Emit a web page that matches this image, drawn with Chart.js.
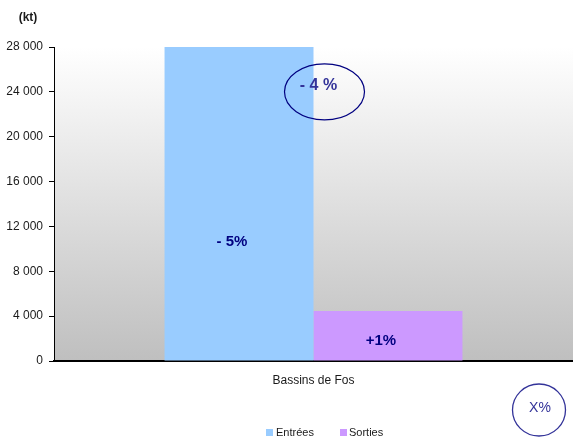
<!DOCTYPE html>
<html lang="fr">
<head>
  <meta charset="UTF-8" />
  <title>Bassins de Fos</title>
  <script src="https://cdn.jsdelivr.net/npm/chart.js"></script>
  <style>
    body { margin: 0; background: #fff; }
    #wrap { width: 573px; height: 439px; }
  </style>
</head>
<body>
  <div id="wrap"><canvas id="chart"></canvas></div>
  <script>
    // data
    const categories = ['Bassins de Fos'];
    const seriesNames = ['Entrées', 'Sorties'];
    const entrees = [28000];
    const sorties = [4450];
    const yTicks = [0, 4000, 8000, 12000, 16000, 20000, 24000, 28000];
    const barLabels = ['- 5%', '+1%'];
    const totalLabel = '- 4 %';
    const cornerLabel = 'X%';
    const unitLabel = '(kt)';

    const colors = ['#99CCFF', '#CC99FF'];
    const FONT = "'Liberation Sans', Arial, sans-serif";

    const fmt = v => String(v).replace(/\B(?=(\d{3})+(?!\d))/g, ' ');

    const decor = {
      id: 'decor',
      beforeDraw(chart) {
        const { ctx, chartArea: a } = chart;
        const g = ctx.createLinearGradient(0, a.top, 0, a.bottom);
        g.addColorStop(0, '#ffffff');
        g.addColorStop(1, '#bfbfbf');
        ctx.save();
        ctx.fillStyle = g;
        ctx.fillRect(a.left, a.top, a.right - a.left, a.bottom - a.top);
        ctx.restore();
      },
      afterDraw(chart) {
        const { ctx } = chart;
        const y = chart.scales.y;
        const b0 = chart.getDatasetMeta(0).data[0];
        const b1 = chart.getDatasetMeta(1).data[0];
        ctx.save();
        ctx.textAlign = 'center';
        ctx.textBaseline = 'middle';

        // unit
        ctx.font = 'bold 12px ' + FONT;
        ctx.fillStyle = '#1a1a1a';
        ctx.fillText(unitLabel, 28, 18);

        // bar labels
        ctx.font = 'bold 15px ' + FONT;
        ctx.fillStyle = '#000080';
        ctx.fillText(barLabels[0], b0.x - 7, y.getPixelForValue(10600));
        ctx.fillText(barLabels[1], b1.x - 7, y.getPixelForValue(1800));

        // ellipse with total change
        const ex = b0.x + b0.width / 2 + 11;
        const ey = y.getPixelForValue(24000);
        ctx.strokeStyle = '#000080';
        ctx.lineWidth = 1.2;
        ctx.beginPath();
        ctx.ellipse(ex, ey, 40, 28, 0, 0, Math.PI * 2);
        ctx.stroke();
        ctx.font = 'bold 16px ' + FONT;
        ctx.fillStyle = '#333399';
        ctx.fillText(totalLabel, ex - 6, ey - 6);

        // corner ellipse
        ctx.strokeStyle = '#333399';
        ctx.lineWidth = 1.3;
        ctx.beginPath();
        ctx.ellipse(539, 410, 26.5, 26, 0, 0, Math.PI * 2);
        ctx.stroke();
        ctx.font = '14px ' + FONT;
        ctx.fillText(cornerLabel, 540, 408);

        // legend
        ctx.font = '11px ' + FONT;
        ctx.textAlign = 'left';
        ctx.fillStyle = colors[0];
        ctx.fillRect(266, 429, 7, 7);
        ctx.fillStyle = colors[1];
        ctx.fillRect(340, 429, 7, 7);
        ctx.fillStyle = '#1a1a1a';
        ctx.fillText(seriesNames[0], 276, 433);
        ctx.fillText(seriesNames[1], 349, 433);
        ctx.restore();
      }
    };

    new Chart(document.getElementById('chart'), {
      type: 'bar',
      data: {
        labels: categories,
        datasets: [
          { label: seriesNames[0], data: entrees, backgroundColor: colors[0] },
          { label: seriesNames[1], data: sorties, backgroundColor: colors[1] }
        ]
      },
      options: {
        responsive: true,
        maintainAspectRatio: false,
        animation: false,
        layout: { padding: { top: 47, left: 0, right: 0, bottom: 0 } },
        datasets: { bar: { categoryPercentage: 0.574, barPercentage: 1 } },
        plugins: { legend: { display: false }, tooltip: { enabled: false } },
        scales: {
          x: {
            grid: { drawOnChartArea: false, drawTicks: false },
            border: { color: '#000', width: 2 },
            ticks: { color: '#1a1a1a', padding: 12, font: { family: FONT, size: 12 } },
            afterFit(s) { s.height = 78; }
          },
          y: {
            min: 0,
            max: 28000,
            afterBuildTicks(s) { s.ticks = yTicks.map(v => ({ value: v })); },
            grid: { drawOnChartArea: false, tickLength: 5, color: '#000' },
            border: { color: '#000', width: 1 },
            ticks: { color: '#1a1a1a', padding: 6, callback: v => fmt(v), font: { family: FONT, size: 12 } },
            afterFit(s) { s.width = 54; }
          }
        }
      },
      plugins: [decor]
    });
  </script>
</body>
</html>
